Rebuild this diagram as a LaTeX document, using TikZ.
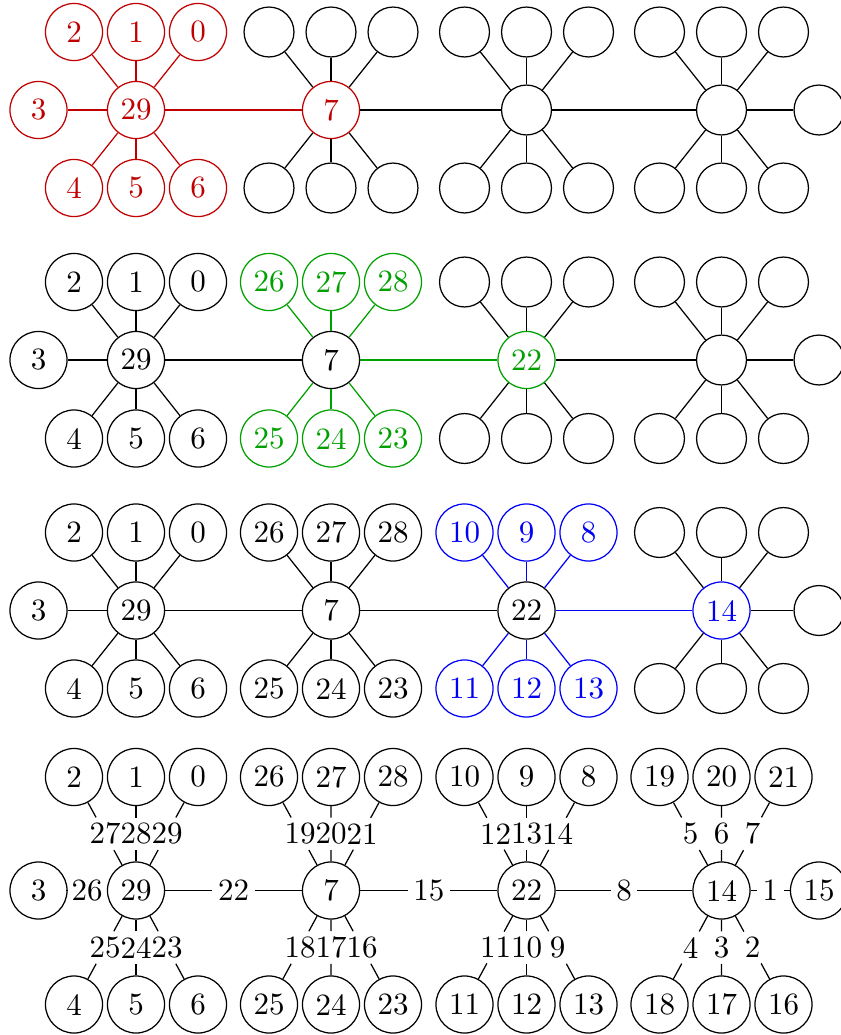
\documentclass[tikz,border=0pt]{standalone}
\usetikzlibrary{calc}
\definecolor{cred}{RGB}{192,0,0}
\definecolor{cgreen}{RGB}{0,160,0}
\definecolor{cblue}{RGB}{0,0,245}
\begin{document}
\begin{tikzpicture}[x=0.32258pt,y=-0.32258pt,line width=0.4pt,
  vtx/.style={circle,draw,minimum size=18.4pt,inner sep=0pt},
  emp/.style={circle,draw,minimum size=16.1pt,inner sep=0pt},
  elab/.style={inner sep=1.6pt}]
\useasboundingbox (0,0) rectangle (841,1035);

% ================= Row 1 =================
\node[vtx,cred] (r1a) at (136,110) {29};
\node[vtx,cred] (r1b) at (331,110) {7};
\node[emp] (r1c) at (526.5,110) {};
\node[emp] (r1d) at (721.5,110) {};
\node[vtx,cred] (r1al) at (38.5,110) {3};
\draw[cred] (r1a) -- (r1al);
\foreach \n/\dx/\lt/\lb in {1/-62/2/4,2/0/1/5,3/62/0/6}{
  \node[vtx,cred] (r1at\n) at (136+\dx,32) {\lt};
  \node[vtx,cred] (r1ab\n) at (136+\dx,188) {\lb};
  \draw[cred] (r1a) -- (r1at\n);
  \draw[cred] (r1a) -- (r1ab\n);
}
\foreach \h/\hx in {b/331,c/526.5,d/721.5}{
  \foreach \n/\dx in {1/-62,2/0,3/62}{
    \node[emp] (r1\h t\n) at (\hx+\dx,32) {};
    \node[emp] (r1\h b\n) at (\hx+\dx,188) {};
    \draw (r1\h) -- (r1\h t\n);
    \draw (r1\h) -- (r1\h b\n);
  }
}
\node[emp] (r1dr) at (819,110) {};
\draw (r1d) -- (r1dr);
\draw[cred] (r1a) -- (r1b);
\draw (r1b) -- (r1c);
\draw (r1c) -- (r1d);

% ================= Row 2 =================
\node[vtx] (r2a) at (136,360) {29};
\node[vtx] (r2b) at (331,360) {7};
\node[vtx,cgreen] (r2c) at (526.5,360) {22};
\node[emp] (r2d) at (721.5,360) {};
\node[vtx] (r2al) at (38.5,360) {3};
\draw (r2a) -- (r2al);
\foreach \n/\dx/\lt/\lb in {1/-62/2/4,2/0/1/5,3/62/0/6}{
  \node[vtx] (r2at\n) at (136+\dx,282) {\lt};
  \node[vtx] (r2ab\n) at (136+\dx,438.5) {\lb};
  \draw (r2a) -- (r2at\n);
  \draw (r2a) -- (r2ab\n);
}
\foreach \n/\dx/\lt/\lb in {1/-62/26/25,2/0/27/24,3/62/28/23}{
  \node[vtx,cgreen] (r2bt\n) at (331+\dx,282) {\lt};
  \node[vtx,cgreen] (r2bb\n) at (331+\dx,438.5) {\lb};
  \draw[cgreen] (r2b) -- (r2bt\n);
  \draw[cgreen] (r2b) -- (r2bb\n);
}
\foreach \h/\hx in {c/526.5,d/721.5}{
  \foreach \n/\dx in {1/-62,2/0,3/62}{
    \node[emp] (r2\h t\n) at (\hx+\dx,282) {};
    \node[emp] (r2\h b\n) at (\hx+\dx,438.5) {};
    \draw (r2\h) -- (r2\h t\n);
    \draw (r2\h) -- (r2\h b\n);
  }
}
\node[emp] (r2dr) at (819,360) {};
\draw (r2d) -- (r2dr);
\draw (r2a) -- (r2b);
\draw[cgreen] (r2b) -- (r2c);
\draw (r2c) -- (r2d);

% ================= Row 3 =================
\node[vtx] (r3a) at (136,610.5) {29};
\node[vtx] (r3b) at (331,610.5) {7};
\node[vtx] (r3c) at (526.5,610.5) {22};
\node[vtx,cblue] (r3d) at (721.5,610.5) {14};
\node[vtx] (r3al) at (38.5,610.5) {3};
\draw (r3a) -- (r3al);
\foreach \n/\dx/\lt/\lb in {1/-62/2/4,2/0/1/5,3/62/0/6}{
  \node[vtx] (r3at\n) at (136+\dx,532.5) {\lt};
  \node[vtx] (r3ab\n) at (136+\dx,688.5) {\lb};
  \draw (r3a) -- (r3at\n);
  \draw (r3a) -- (r3ab\n);
}
\foreach \n/\dx/\lt/\lb in {1/-62/26/25,2/0/27/24,3/62/28/23}{
  \node[vtx] (r3bt\n) at (331+\dx,532.5) {\lt};
  \node[vtx] (r3bb\n) at (331+\dx,688.5) {\lb};
  \draw (r3b) -- (r3bt\n);
  \draw (r3b) -- (r3bb\n);
}
\foreach \n/\dx/\lt/\lb in {1/-62/10/11,2/0/9/12,3/62/8/13}{
  \node[vtx,cblue] (r3ct\n) at (526.5+\dx,532.5) {\lt};
  \node[vtx,cblue] (r3cb\n) at (526.5+\dx,688.5) {\lb};
  \draw[cblue] (r3c) -- (r3ct\n);
  \draw[cblue] (r3c) -- (r3cb\n);
}
\foreach \n/\dx in {1/-62,2/0,3/62}{
  \node[emp] (r3dt\n) at (721.5+\dx,532.5) {};
  \node[emp] (r3db\n) at (721.5+\dx,688.5) {};
  \draw (r3d) -- (r3dt\n);
  \draw (r3d) -- (r3db\n);
}
\node[emp] (r3dr) at (819,610.5) {};
\draw (r3d) -- (r3dr);
\draw (r3a) -- (r3b);
\draw (r3b) -- (r3c);
\draw[cblue] (r3c) -- (r3d);

% ================= Row 4 =================
\node[vtx] (r4a) at (136,890.5) {29};
\node[vtx] (r4b) at (331,890.5) {7};
\node[vtx] (r4c) at (526.5,890.5) {22};
\node[vtx] (r4d) at (721.5,890.5) {14};
\node[vtx] (r4al) at (38.5,890.5) {3};
\node[vtx] (r4dr) at (819,890.5) {15};
\node[elab] (e4al) at ($(r4al)!0.5!(r4a)$) {26};
\draw (r4al) -- (e4al);  \draw (e4al) -- (r4a);
\node[elab] (e4dr) at ($(r4d)!0.5!(r4dr)$) {1};
\draw (r4d) -- (e4dr);  \draw (e4dr) -- (r4dr);
\foreach \h/\hx/\ltA/\ltB/\ltC/\lbA/\lbB/\lbC/\etA/\etB/\etC/\ebA/\ebB/\ebC in {
  a/136/2/1/0/4/5/6/27/28/29/25/24/23,
  b/331/26/27/28/25/24/23/19/20/21/18/17/16,
  c/526.5/10/9/8/11/12/13/12/13/14/11/10/9,
  d/721.5/19/20/21/18/17/16/5/6/7/4/3/2}{
  \foreach \n/\dx/\lt/\lb/\et/\eb in {1/-62/\ltA/\lbA/\etA/\ebA,2/0/\ltB/\lbB/\etB/\ebB,3/62/\ltC/\lbC/\etC/\ebC}{
    \node[vtx] (r4\h t\n) at (\hx+\dx,777) {\lt};
    \node[vtx] (r4\h b\n) at (\hx+\dx,1004.5) {\lb};
    \node[elab] (e4\h t\n) at ($(r4\h t\n)!0.5!(r4\h)$) {\et};
    \node[elab] (e4\h b\n) at ($(r4\h b\n)!0.5!(r4\h)$) {\eb};
    \draw (r4\h t\n) -- (e4\h t\n);  \draw (e4\h t\n) -- (r4\h);
    \draw (r4\h b\n) -- (e4\h b\n);  \draw (e4\h b\n) -- (r4\h);
  }
}
\node[elab] (e4ab) at ($(r4a)!0.5!(r4b)$) {22};
\draw (r4a) -- (e4ab);  \draw (e4ab) -- (r4b);
\node[elab] (e4bc) at ($(r4b)!0.5!(r4c)$) {15};
\draw (r4b) -- (e4bc);  \draw (e4bc) -- (r4c);
\node[elab] (e4cd) at ($(r4c)!0.5!(r4d)$) {8};
\draw (r4c) -- (e4cd);  \draw (e4cd) -- (r4d);
\end{tikzpicture}
\end{document}
